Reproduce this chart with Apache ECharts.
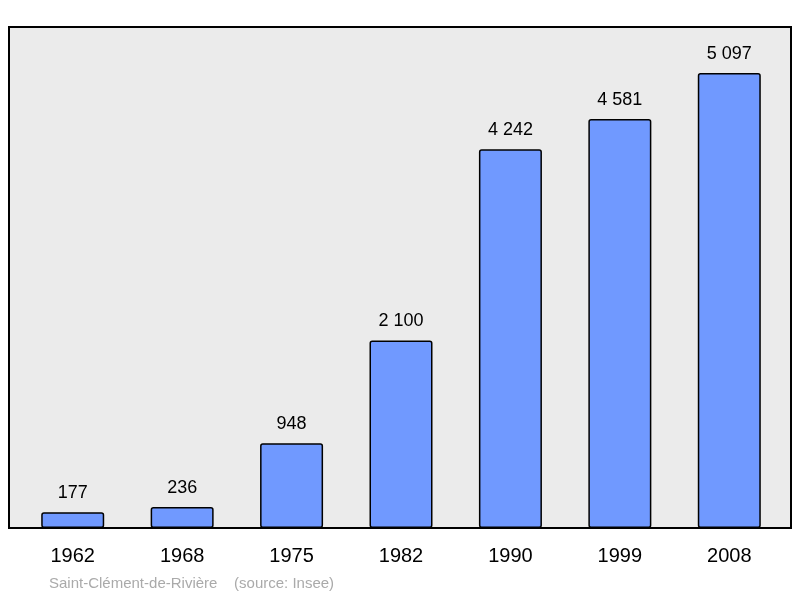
<!DOCTYPE html>
<html>
<head>
<meta charset="utf-8">
<script src="https://cdn.jsdelivr.net/npm/echarts@6/dist/echarts.min.js"></script>
<style>html,body{margin:0;padding:0;background:#fff}#chart{width:800px;height:598px}</style>
</head>
<body>
<div id="chart"></div>
<script>
var years = ['1962', '1968', '1975', '1982', '1990', '1999', '2008'];
var population = [177, 236, 948, 2100, 4242, 4581, 5097];

var myChart = echarts.init(document.getElementById('chart'));
var option = {
    animation: false,
    textStyle: {fontFamily: 'Liberation Sans'},
    graphic: [
        {type: 'rect', z: -10, shape: {x: 9, y: 27, width: 782, height: 501},
         style: {fill: '#ebebeb', stroke: '#000', lineWidth: 2}},
        {type: 'text', left: 49, top: 576,
         style: {text: 'Saint-Clément-de-Rivière    (source: Insee)', fill: '#aaaaaa', font: '15px Liberation Sans'}}
    ],
    grid: {left: 18, right: 16, top: 27, bottom: 70},
    xAxis: {
        type: 'category',
        data: years,
        axisLine: {show: false},
        axisTick: {show: false},
        axisLabel: {color: '#000', fontSize: 20, margin: 18}
    },
    yAxis: {type: 'value', min: 0, max: 5612, show: false, splitLine: {show: false}},
    series: [{
        type: 'bar',
        data: population,
        barWidth: 63,
        itemStyle: {color: '#7099ff', borderColor: '#000', borderWidth: 1.5, borderRadius: 2},
        label: {
            show: true, position: 'top', distance: 10, color: '#000', fontSize: 18,
            formatter: function (p) { return String(p.value).replace(/\B(?=(\d{3})+(?!\d))/g, ' '); }
        }
    }]
};
myChart.setOption(option);
</script>
</body>
</html>
